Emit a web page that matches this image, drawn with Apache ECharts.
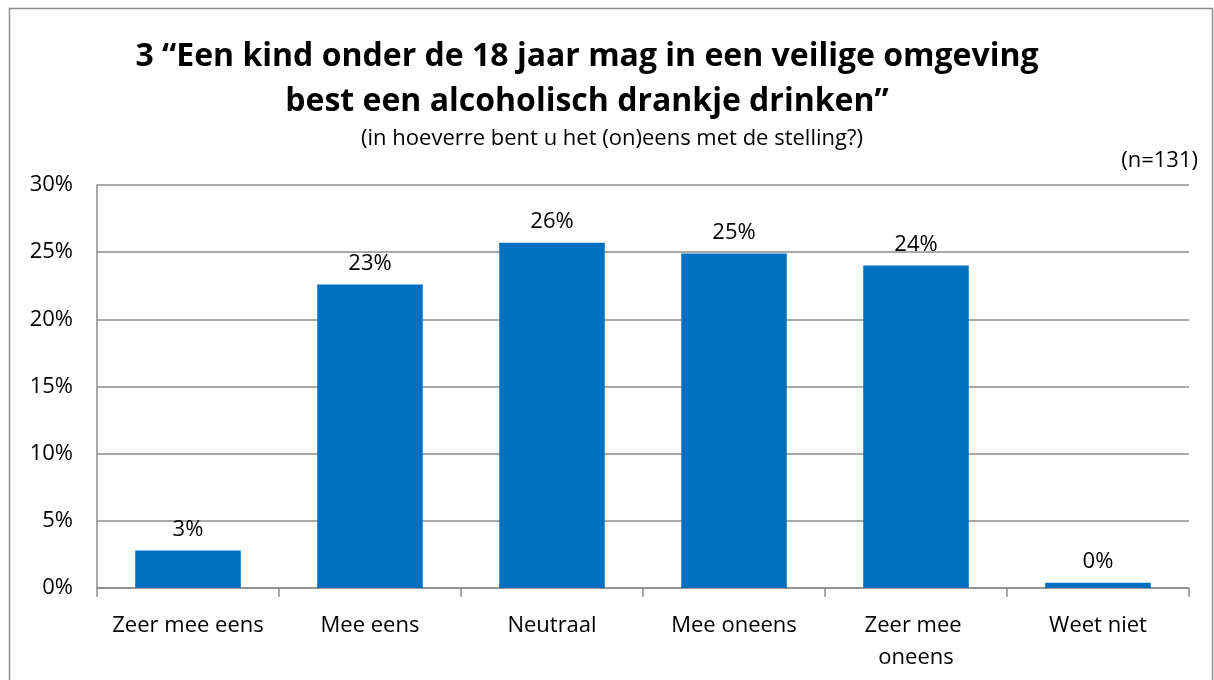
<!DOCTYPE html>
<html><head><meta charset="utf-8">
<script src="https://cdn.jsdelivr.net/npm/echarts@6/dist/echarts.min.js"></script>
<style>html,body{margin:0;padding:0;background:#fff}#c{width:1214px;height:680px}</style>
</head><body><div id="c"></div>
<script>
const categories = ['Zeer mee eens','Mee eens','Neutraal','Mee oneens','Zeer mee oneens','Weet niet'];
const values = [2.8, 22.6, 25.7, 24.9, 24.0, 0.4];
const yTicks = [0,5,10,15,20,25,30];
const titleLines = ['3 \u201cEen kind onder de 18 jaar mag in een veilige omgeving','best een alcoholisch drankje drinken\u201d'];
const subtitle = '(in hoeverre bent u het (on)eens met de stelling?)';
const nLabel = '(n=131)';

const font = '"Open Sans", "Noto Sans", sans-serif';
const chart = echarts.init(document.getElementById('c'), null, {renderer:'canvas'});
chart.setOption({
  animation:false,
  graphic:[
    {type:'rect', shape:{x:9.5,y:8.5,width:1203,height:680}, style:{fill:'none',stroke:'#8c8c8c',lineWidth:1.5}},
    {type:'text', x:587, y:41, style:{text:titleLines[0], font:'bold 32px '+font, fill:'#000', textAlign:'center'}},
    {type:'text', x:587, y:86, style:{text:titleLines[1], font:'bold 32px '+font, fill:'#000', textAlign:'center'}},
    {type:'text', x:612, y:128, style:{text:subtitle, font:'22px '+font, fill:'#000', textAlign:'center'}},
    {type:'text', x:1198, y:150, style:{text:nLabel, font:'22px '+font, fill:'#000', textAlign:'right'}}
  ],
  grid:{left:97, right:25, top:185, bottom:92},
  xAxis:{
    type:'category', data:categories,
    axisLine:{lineStyle:{color:'#8c8c8c', width:1.5}},
    axisTick:{show:true, length:9, lineStyle:{color:'#8c8c8c', width:1.5}},
    axisLabel:{interval:0, color:'#000', fontSize:22, fontFamily:font, margin:22, width:175, overflow:'break', lineHeight:32}
  },
  yAxis:{
    type:'value', min:0, max:30, interval:5,
    axisLine:{show:true, lineStyle:{color:'#8c8c8c', width:1.5}},
    axisTick:{show:false},
    splitLine:{lineStyle:{color:'#8c8c8c', width:1.5}},
    axisLabel:{color:'#000', fontSize:22, fontFamily:font, margin:24, formatter: v => yTicks.includes(v) ? v+'%' : ''}
  },
  series:[{
    type:'bar', data:values, barCategoryGap:'42%',
    itemStyle:{color:'#0070C0'},
    label:{show:true, position:'top', distance:10, color:'#000', fontSize:22, fontFamily:font,
      formatter: p => Math.round(p.value)+'%'}
  }]
});
</script></body></html>
